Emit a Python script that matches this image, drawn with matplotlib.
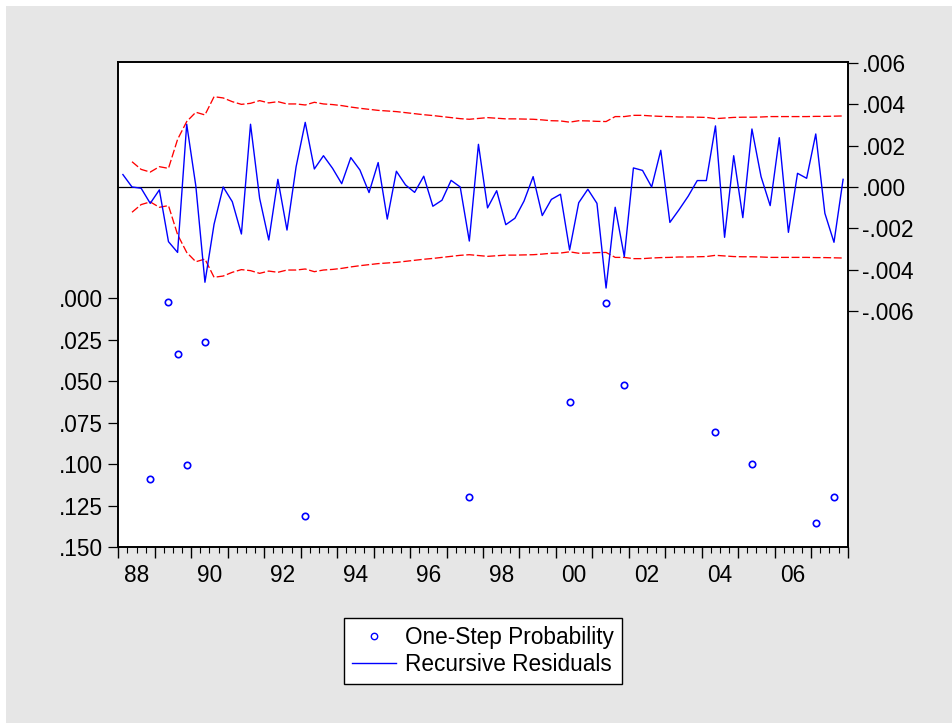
import matplotlib
matplotlib.use("Agg")
import matplotlib.pyplot as plt
import numpy as np
from matplotlib.lines import Line2D
from matplotlib.patches import Rectangle
from matplotlib.ticker import FixedLocator, FixedFormatter, FuncFormatter

plt.rcParams['font.family'] = ['Liberation Sans', 'DejaVu Sans']

# quarterly sample 1988Q1 - 2007Q4
start_year = 1988
n_obs = 80

# recursive residuals (x 1e-3), one per quarter
resid = [0.60, 0.00, -0.06, -0.79, -0.14, -2.64, -3.16, 3.03, 0.05, -4.60,
         -1.80, 0.00, -0.71, -2.27, 3.03, -0.55, -2.56, 0.37, -2.08, 0.98,
         3.12, 0.87, 1.51, 0.90, 0.16, 1.42, 0.82, -0.27, 1.18, -1.55,
         0.76, 0.10, -0.26, 0.52, -0.93, -0.64, 0.32, 0.00, -2.61, 2.06,
         -1.01, -0.18, -1.82, -1.51, -0.68, 0.50, -1.38, -0.60, -0.35, -3.04,
         -0.76, -0.11, -0.79, -4.88, -0.98, -3.36, 0.92, 0.80, 0.00, 1.77,
         -1.71, -1.10, -0.45, 0.31, 0.31, 2.95, -2.43, 1.51, -1.48, 2.80,
         0.50, -0.90, 2.38, -2.19, 0.66, 0.42, 2.56, -1.27, -2.67, 0.37]

# two standard error band (x 1e-3), starts at the second quarter
band = [1.22, 0.85, 0.72, 0.98, 0.90, 2.30, 3.16, 3.61, 3.48, 4.36,
        4.30, 4.12, 3.99, 4.04, 4.17, 4.06, 4.12, 4.01, 4.01, 3.96,
        4.09, 4.01, 3.98, 3.93, 3.86, 3.80, 3.75, 3.70, 3.67, 3.64,
        3.59, 3.54, 3.49, 3.45, 3.40, 3.35, 3.30, 3.27, 3.31, 3.35,
        3.32, 3.29, 3.29, 3.28, 3.27, 3.24, 3.20, 3.19, 3.13, 3.20,
        3.19, 3.17, 3.16, 3.40, 3.40, 3.46, 3.46, 3.43, 3.41, 3.40,
        3.38, 3.38, 3.37, 3.36, 3.30, 3.33, 3.36, 3.37, 3.37, 3.38,
        3.40, 3.40, 3.40, 3.40, 3.40, 3.41, 3.41, 3.42, 3.43]

# one-step probabilities (only those below .15 are shown)
prob_obs = [3, 5, 6, 7, 9, 20, 38, 49, 53, 55, 65, 69, 76, 78]
prob_val = [0.1087, 0.0020, 0.0337, 0.1002, 0.0263, 0.1311, 0.1195,
            0.0627, 0.0030, 0.0524, 0.0807, 0.1000, 0.1354, 0.1195]

x = np.arange(n_obs)
resid = np.array(resid) * 1e-3
band = np.array(band) * 1e-3
xb = x[1:]

fs = 16.3

fig = plt.figure(figsize=(9.52, 7.23), dpi=100, facecolor='white')
fig.patches.append(Rectangle((6 / 952, 0), 1, 1 - 6 / 723, transform=fig.transFigure,
                             facecolor='#e6e6e6', edgecolor='none', zorder=-10))

ax = fig.add_axes([0.1243, 0.2430, 0.7661, 0.6708])
ax2 = ax.twinx()

ax.plot(prob_obs, prob_val, linestyle='none', marker='o', markersize=4.6,
        markerfacecolor='none', markeredgecolor='#0000ff', markeredgewidth=1.2)
ax.set_ylim(0.15, -0.1422)
ax.set_yticks(np.arange(0, 0.151, 0.025))

ax2.axhline(0, color='black', lw=0.9)
ax2.plot(xb, band, color='#ff0000', lw=0.95, dashes=(6.0, 2.0))
ax2.plot(xb, -band, color='#ff0000', lw=0.95, dashes=(6.0, 2.0))
ax2.plot(x, resid, color='#0000ff', lw=1.0)
ax2.set_ylim(-0.0174, 0.00602)
ax2.set_yticks(np.arange(-0.006, 0.0061, 0.002))

def dot_fmt(v, pos):
    s = "%.3f" % v
    if s.startswith("-"):
        s = "-" + s[2:]
    else:
        s = s[1:]
    return s

ax.yaxis.set_major_formatter(FuncFormatter(dot_fmt))
ax2.yaxis.set_major_formatter(FuncFormatter(dot_fmt))

# x axis: year ticks, quarter minor ticks, labels every other mid-year
ax.set_xlim(-0.5, n_obs - 0.5)
year_pos = np.arange(0, n_obs + 1, 4) - 0.5
q_pos = [p - 0.5 for p in range(n_obs + 1) if p % 4 != 0]
q_lab = []
for p in range(n_obs + 1):
    if p % 4 == 0:
        continue
    if p % 8 == 2:
        q_lab.append("%02d" % ((start_year + p // 4) % 100))
    else:
        q_lab.append("")
ax.xaxis.set_major_locator(FixedLocator(year_pos))
ax.xaxis.set_major_formatter(FixedFormatter([""] * len(year_pos)))
ax.xaxis.set_minor_locator(FixedLocator(q_pos))
ax.xaxis.set_minor_formatter(FixedFormatter(q_lab))

ax.tick_params(axis='x', which='major', direction='out', length=8, width=1.0)
ax.tick_params(axis='x', which='minor', direction='out', length=4.3, width=0.8,
               labelsize=fs, pad=8)
ax.tick_params(axis='y', direction='out', length=7, width=0.9, labelsize=fs, pad=4)
ax2.tick_params(axis='y', direction='out', length=7, width=0.9, labelsize=fs, pad=3.5)

for a in (ax, ax2):
    for sp in a.spines.values():
        sp.set_linewidth(1.2)
        sp.set_color('black')

handles = [Line2D([], [], linestyle='none', marker='o', markersize=4.6,
                  markerfacecolor='none', markeredgecolor='#0000ff', markeredgewidth=1.0),
           Line2D([], [], color='#0000ff', lw=1.0)]
leg = fig.legend(handles, ["One-Step Probability", "Recursive Residuals"],
                 loc='upper center', bbox_to_anchor=(0.507, 0.1448), fontsize=fs,
                 frameon=True, fancybox=False, edgecolor='black', framealpha=1,
                 handlelength=1.95, handletextpad=0.4, borderpad=0.35,
                 labelspacing=0.15, borderaxespad=0)
leg.get_frame().set_linewidth(1.0)

fig.savefig("out.png", dpi=100, facecolor=fig.get_facecolor())
